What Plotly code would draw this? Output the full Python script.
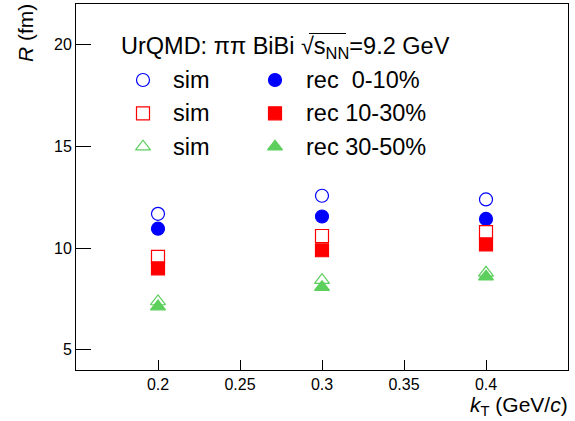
import plotly.graph_objects as go

kt = [0.2, 0.3, 0.4]
sim_0_10 = [11.68, 12.57, 12.39]
rec_0_10 = [10.95, 11.55, 11.43]
sim_10_30 = [9.56, 10.59, 10.78]
rec_10_30 = [9.00, 9.89, 10.18]
sim_30_50 = [7.37, 8.42, 8.78]
rec_30_50 = [7.12, 8.07, 8.59]

BLUE = "#0000ff"
RED = "#ff0000"
GREEN = "#5ccf5c"
FONT = "Liberation Sans, Arial, Helvetica, sans-serif"

series = [
    ("sim", sim_0_10, "circle-open", BLUE),
    ("rec  0-10%", rec_0_10, "circle", BLUE),
    ("sim", sim_10_30, "square-open", RED),
    ("rec 10-30%", rec_10_30, "square", RED),
    ("sim", sim_30_50, "triangle-up-open", GREEN),
    ("rec 30-50%", rec_30_50, "triangle-up", GREEN),
]

fig = go.Figure()
for name, vals, sym, col in series:
    fig.add_trace(go.Scatter(
        x=kt, y=vals, mode="markers", name=name, showlegend=False,
        marker=dict(symbol=sym, size=13, color=col, line=dict(color=col, width=1.2)),
    ))

L, R, T, B = 76, 568, 4, 370


def px(x):
    return (x - L) / (R - L)


def py(y):
    return (B - y) / (B - T)


leg_rows_y = [80, 113.3, 146.7]
leg_items = [
    (143, leg_rows_y[0], "circle-open", BLUE, 171, "sim"),
    (275, leg_rows_y[0], "circle", BLUE, 304, "rec  0-10%"),
    (143, leg_rows_y[1], "square-open", RED, 171, "sim"),
    (275, leg_rows_y[1], "square", RED, 304, "rec 10-30%"),
    (143, leg_rows_y[2], "triangle-up-open", GREEN, 171, "sim"),
    (275, leg_rows_y[2], "triangle-up", GREEN, 304, "rec 30-50%"),
]
for mx, my, sym, col, tx, txt in leg_items:
    fig.add_trace(go.Scatter(
        x=[mx], y=[my], mode="markers", showlegend=False, xaxis="x2", yaxis="y2",
        marker=dict(symbol=sym, size=13, color=col, line=dict(color=col, width=1.2)),
        hoverinfo="skip",
    ))
    fig.add_annotation(x=px(tx), y=py(my), xref="paper", yref="paper", text=txt,
                       showarrow=False, xanchor="left", yanchor="middle",
                       font=dict(family=FONT, size=23.5, color="black"))

fig.add_annotation(x=px(119), y=py(47), xref="paper", yref="paper",
                   text="UrQMD: ππ BiBi √s<sub>NN</sub>=9.2 GeV", showarrow=False,
                   xanchor="left", yanchor="middle",
                   font=dict(family=FONT, size=23.5, color="black"))
# overline of the square root
fig.add_shape(type="line", xref="paper", yref="paper",
              x0=px(309), x1=px(346), y0=py(33.5), y1=py(33.5),
              line=dict(color="black", width=1.2))

# axis titles
fig.add_annotation(x=px(25), y=py(2), xref="paper", yref="paper", text="<i>R</i> (fm)",
                   showarrow=False, textangle=-90, xanchor="center", yanchor="top",
                   font=dict(family=FONT, size=21, color="black"))
fig.add_annotation(x=px(570), y=py(421), xref="paper", yref="paper",
                   text="<i>k</i><sub>T</sub> (GeV/<i>c</i>)", showarrow=False,
                   xanchor="right", yanchor="bottom",
                   font=dict(family=FONT, size=21, color="black"))

fig.update_layout(
    width=575, height=421,
    margin=dict(l=L, r=575 - R, t=T, b=421 - B),
    paper_bgcolor="white", plot_bgcolor="white",
    font=dict(family=FONT, size=16, color="black"),
    xaxis=dict(range=[0.15, 0.45], tickvals=[0.2, 0.25, 0.3, 0.35, 0.4],
               ticktext=["0.2", "0.25", "0.3", "0.35", "0.4"],
               ticks="inside", ticklen=10, tickwidth=1, tickcolor="black",
               showline=True, linecolor="black", linewidth=1, mirror=True,
               showgrid=False, zeroline=False, tickfont=dict(size=16)),
    yaxis=dict(range=[4, 22], tickvals=[5, 10, 15, 20],
               ticks="inside", ticklen=15, tickwidth=1, tickcolor="black",
               showline=True, linecolor="black", linewidth=1, mirror=True,
               showgrid=False, zeroline=False, tickfont=dict(size=16)),
    xaxis2=dict(range=[L, R], overlaying="x", visible=False, fixedrange=True),
    yaxis2=dict(range=[B, T], overlaying="y", visible=False, fixedrange=True),
)

fig.write_html("out.html", post_script="document.body.style.margin='0';",
               config={"displayModeBar": False})
